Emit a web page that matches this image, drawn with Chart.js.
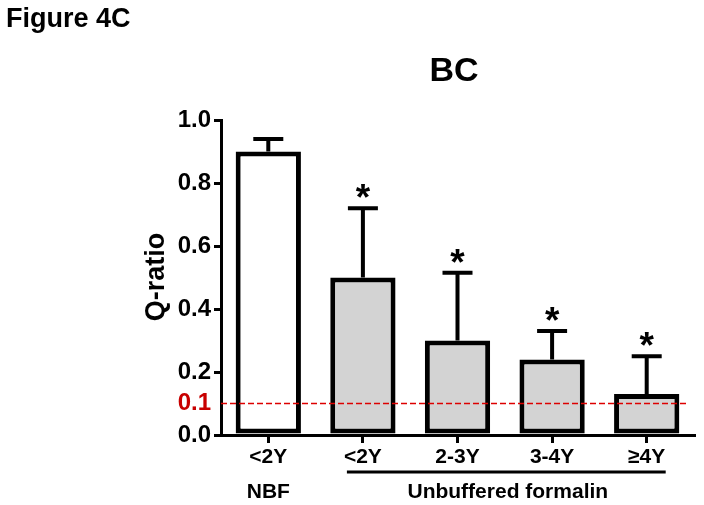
<!DOCTYPE html>
<html>
<head>
<meta charset="utf-8">
<script src="https://cdn.jsdelivr.net/npm/chart.js@4.4.1/dist/chart.umd.min.js"></script>
<style>
  html, body { margin: 0; padding: 0; background: #fff; }
</style>
</head>
<body>
<canvas id="grafico" width="704" height="505"></canvas>
<script>
// dados
const categorias = ['<2Y', '<2Y', '2-3Y', '3-4Y', '≥4Y'];
const grupoNBF = 'NBF';
const grupoNaoTamponado = 'Unbuffered formalin';
const medias = [0.9, 0.5, 0.3, 0.24, 0.13];
const erros = [0.04, 0.22, 0.215, 0.09, 0.12];
const asteriscos = ['', '*', '*', '*', '*'];
const ticksY = [0, 0.1, 0.2, 0.4, 0.6, 0.8, 1.0];
const limiar = 0.1;

const FONTE = 'Arial, "Liberation Sans", Helvetica, sans-serif';
const VERMELHO = '#c80000';

// Barras de erro, asteriscos, linha do limiar e textos extra
const pluginExtras = {
    id: 'extras',
    afterDatasetsDraw(chart) {
        const ctx = chart.ctx;
        const x = chart.scales.x;
        const y = chart.scales.y;
        const area = chart.chartArea;

        ctx.save();
        // barras de erro (só para cima)
        ctx.strokeStyle = '#000';
        ctx.lineWidth = 4;
        medias.forEach((m, i) => {
            const px = x.getPixelForValue(i);
            const yBase = y.getPixelForValue(m);
            const yTopo = y.getPixelForValue(m + erros[i]);
            ctx.beginPath();
            ctx.moveTo(px, yBase);
            ctx.lineTo(px, yTopo);
            ctx.moveTo(px - 15, yTopo);
            ctx.lineTo(px + 15, yTopo);
            ctx.stroke();

            if (asteriscos[i]) {
                ctx.fillStyle = '#000';
                ctx.font = 'bold 37px ' + FONTE;
                ctx.textAlign = 'center';
                ctx.textBaseline = 'alphabetic';
                ctx.fillText(asteriscos[i], px, yTopo + 2);
            }
        });

        // linha tracejada do limiar
        const yLim = y.getPixelForValue(limiar);
        ctx.strokeStyle = '#dd0000';
        ctx.lineWidth = 1.6;
        ctx.setLineDash([6, 3]);
        ctx.beginPath();
        ctx.moveTo(area.left, yLim);
        ctx.lineTo(area.right - 7, yLim);
        ctx.stroke();
        ctx.setLineDash([]);

        // títulos
        ctx.fillStyle = '#000';
        ctx.textAlign = 'left';
        ctx.textBaseline = 'alphabetic';
        ctx.font = 'bold 27px ' + FONTE;
        ctx.fillText('Figure 4C', 6, 27);

        ctx.textAlign = 'center';
        ctx.textBaseline = 'middle';
        ctx.font = 'bold 34px ' + FONTE;
        ctx.fillText('BC', 454, 72);

        ctx.save();
        ctx.translate(157, 277);
        ctx.rotate(-Math.PI / 2);
        ctx.font = 'bold 27px ' + FONTE;
        ctx.fillText('Q-ratio', 0, 0);
        ctx.restore();

        // grupos por baixo do eixo x
        ctx.font = 'bold 21px ' + FONTE;
        ctx.fillText(grupoNBF, x.getPixelForValue(0), 492);
        const xi = x.getPixelForValue(1) - 16;
        const xf = x.getPixelForValue(4) + 19;
        ctx.fillText(grupoNaoTamponado, (x.getPixelForValue(1) + x.getPixelForValue(4)) / 2 + 3, 492);
        ctx.strokeStyle = '#000';
        ctx.lineWidth = 3;
        ctx.beginPath();
        ctx.moveTo(xi, 472);
        ctx.lineTo(xf, 472);
        ctx.stroke();
        ctx.restore();
    }
};

new Chart(document.getElementById('grafico'), {
    type: 'bar',
    data: {
        labels: categorias,
        datasets: [{
            data: medias,
            backgroundColor: ['#ffffff', '#d3d3d3', '#d3d3d3', '#d3d3d3', '#d3d3d3'],
            borderColor: '#000',
            borderWidth: 5,
            borderSkipped: false,
            categoryPercentage: 1,
            barPercentage: 0.69
        }]
    },
    options: {
        responsive: false,
        animation: false,
        devicePixelRatio: 1,
        layout: { padding: { top: 120, right: 10, left: 0, bottom: 0 } },
        plugins: { legend: { display: false }, tooltip: { enabled: false }, title: { display: false } },
        scales: {
            x: {
                afterFit: s => { s.height = 70; },
                border: { color: '#000', width: 3 },
                grid: { drawOnChartArea: false, offset: false, tickLength: 8, lineWidth: 3, color: '#000' },
                ticks: { color: '#000', font: { family: FONTE, size: 21, weight: 'bold' }, padding: 2, maxRotation: 0 }
            },
            y: {
                min: 0,
                max: 1,
                afterFit: s => { s.width = 221; },
                afterBuildTicks: s => { s.ticks = ticksY.map(v => ({ value: v })); },
                border: { color: '#000', width: 3 },
                grid: {
                    drawOnChartArea: false,
                    tickLength: 7,
                    lineWidth: 3,
                    color: '#000',
                    tickColor: c => (c.tick && c.tick.value === limiar) ? 'rgba(0,0,0,0)' : '#000'
                },
                ticks: {
                    color: c => (c.tick && c.tick.value === limiar) ? VERMELHO : '#000',
                    font: { family: FONTE, size: 24, weight: 'bold' },
                    padding: 3,
                    callback: v => Number(v).toFixed(1)
                }
            }
        }
    },
    plugins: [pluginExtras]
});
</script>
</body>
</html>
